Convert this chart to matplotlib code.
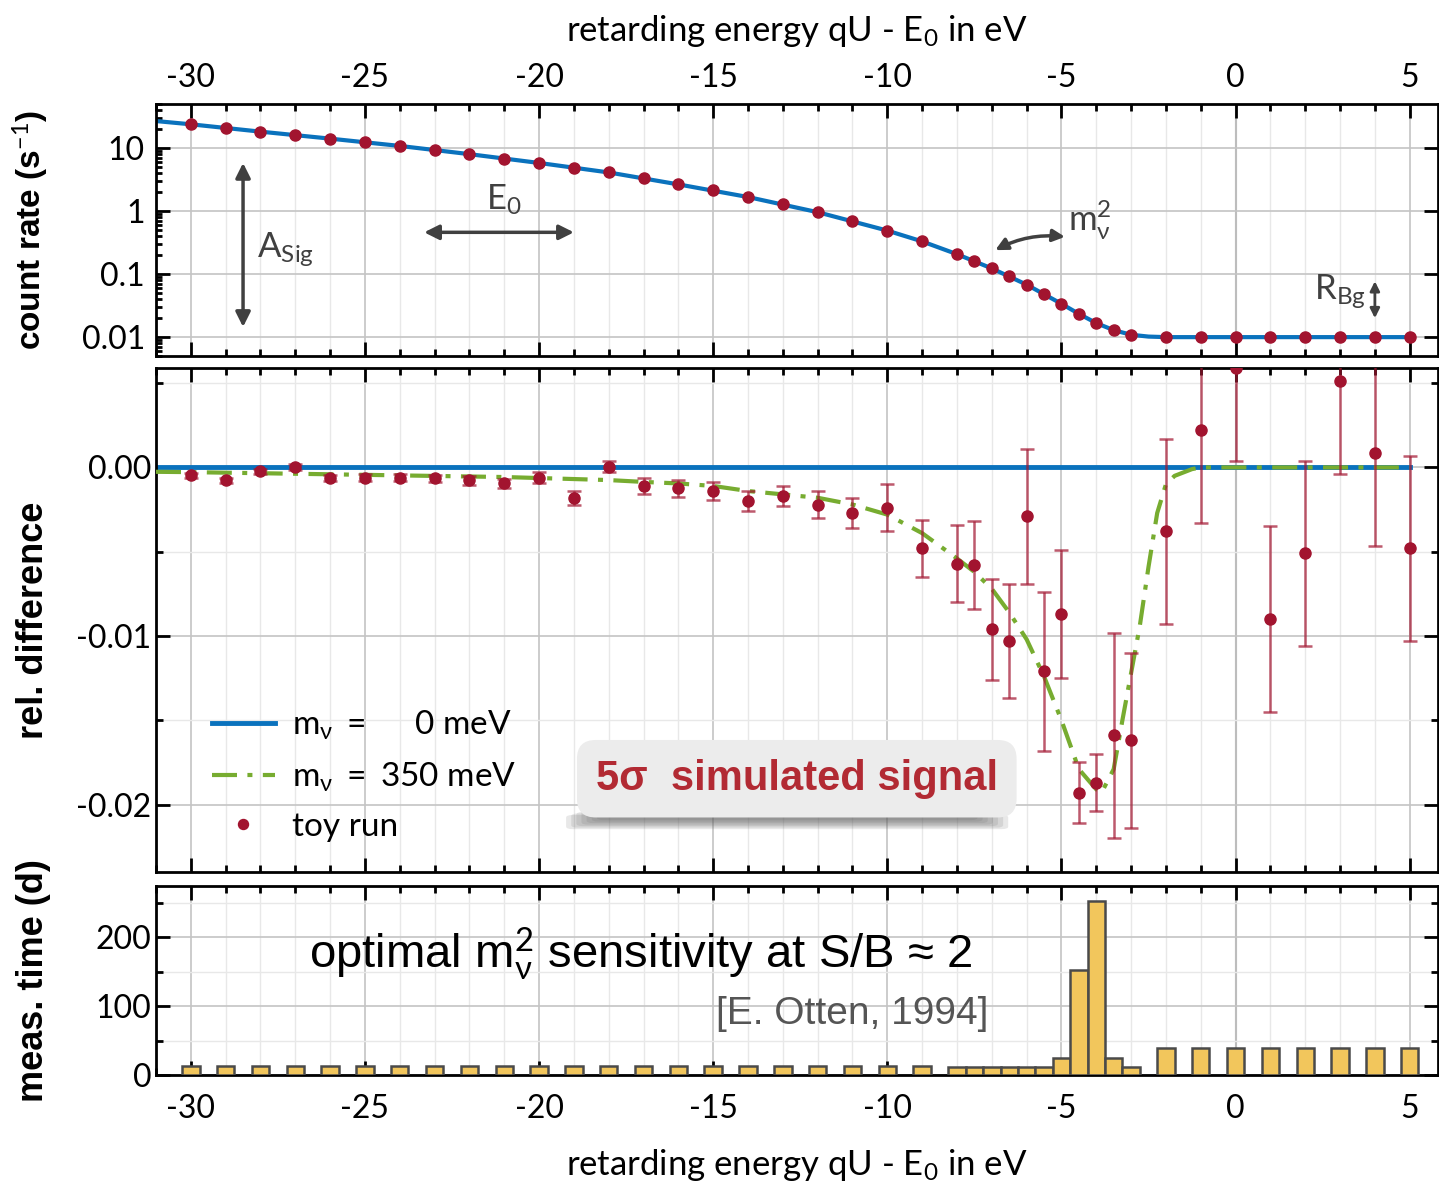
import matplotlib
matplotlib.use("Agg")
import matplotlib.pyplot as plt
from matplotlib.ticker import FixedLocator, MultipleLocator, FixedFormatter, LogLocator, NullFormatter
from matplotlib.patches import FancyBboxPatch

plt.rcParams['font.family'] = ['Lato', 'DejaVu Sans']
plt.rcParams['mathtext.fontset'] = 'custom'
plt.rcParams['mathtext.rm'] = 'Lato'
plt.rcParams['mathtext.it'] = 'Lato'
plt.rcParams['axes.unicode_minus'] = False

# retarding energies of the scan steps (eV)
qU = [-30, -29, -28, -27, -26, -25, -24, -23, -22, -21, -20, -19, -18, -17, -16,
      -15, -14, -13, -12, -11, -10, -9, -8, -7.5, -7, -6.5, -6, -5.5, -5, -4.5,
      -4, -3.5, -3, -2, -1, 0, 1, 2, 3, 4, 5]

# count rate of the toy run (1/s)
rate = [23.8, 20.5, 18.2, 16.3, 14.1, 12.3, 10.8, 9.3, 8.0, 6.8, 5.8, 4.8, 4.1,
        3.3, 2.65, 2.15, 1.67, 1.29, 0.96, 0.70, 0.49, 0.33, 0.207, 0.163, 0.123,
        0.092, 0.068, 0.0476, 0.0338, 0.0234, 0.0167, 0.0129, 0.0109, 0.0100,
        0.0100, 0.0100, 0.0100, 0.0100, 0.0100, 0.0100, 0.0100]

# model rate for m_nu = 0
model_x = [-31, -30, -28, -26, -24, -22, -20, -18, -16, -14, -12, -10, -9, -8, -7,
           -6, -5, -4.5, -4, -3.5, -3, -2.5, -2, 5]
model_rate = [26.8, 23.8, 18.2, 14.1, 10.8, 8.0, 5.8, 4.1, 2.65, 1.67, 0.96, 0.49,
              0.33, 0.207, 0.123, 0.068, 0.0338, 0.0234, 0.0167, 0.0129, 0.0109,
              0.0102, 0.0100, 0.0100]

# relative difference of toy run and its uncertainty
rel_diff = [-0.00047, -0.00077, -0.00024, 0.00002, -0.00065, -0.0006, -0.0006,
            -0.00065, -0.00077, -0.00095, -0.0006, -0.0018, 0.00005, -0.0011,
            -0.00125, -0.0014, -0.0020, -0.0017, -0.0022, -0.0027, -0.0024, -0.0048,
            -0.0057, -0.0058, -0.0096, -0.0103, -0.0029, -0.0121, -0.0087, -0.0193,
            -0.0187, -0.0159, -0.0162, -0.0038, 0.0022, 0.0059, -0.0090, -0.0051,
            0.0051, 0.00085, -0.0048]
rel_err = [0.00015, 0.00015, 0.00015, 0.00018, 0.00018, 0.0002, 0.0002, 0.00022,
           0.00025, 0.00028, 0.0003, 0.0004, 0.00035, 0.00045, 0.0005, 0.00055,
           0.0006, 0.0006, 0.0008, 0.0009, 0.0014, 0.0017, 0.0023, 0.0026, 0.0030,
           0.0034, 0.0040, 0.0047, 0.0038, 0.0018, 0.0017, 0.0061, 0.0052, 0.0055,
           0.0055, 0.0055, 0.0055, 0.0055, 0.0055, 0.0055, 0.0055]

# model with m_nu = 350 meV relative to m_nu = 0
m350_x = [-31, -30, -25, -21, -18, -17, -16, -15, -14, -13, -12, -11, -10, -9, -8,
          -7.5, -7, -6.5, -6, -5.5, -5, -4.5, -4, -3.85, -3.5, -3.25, -3, -2.75,
          -2.5, -2.25, -2, -1.75, -1.5, -1.25, -1, 5]
m350_y = [-0.00026, -0.00028, -0.00044, -0.00057, -0.00075, -0.00086, -0.00095,
          -0.0011, -0.0014, -0.0016, -0.0018, -0.0022, -0.0028, -0.0039, -0.0054,
          -0.0062, -0.0072, -0.0086, -0.0102, -0.0124, -0.0150, -0.0179, -0.0191,
          -0.0193, -0.0179, -0.0150, -0.0122, -0.0094, -0.0059, -0.0027, -0.0010,
          -0.0005, -0.0003, -0.0001, 0.0, 0.0]

# measurement time per scan step (days)
meas_time = [13, 13, 13, 13, 13, 13, 13, 13, 13, 13, 13, 13, 13, 13, 13, 13, 13,
             13, 13, 13, 13, 13, 11, 11, 11, 11, 11, 11, 24, 153, 252, 24, 11,
             39, 39, 39, 39, 39, 39, 39, 39]

blue = '#0a72bd'
green = '#77ac30'
red = '#a2142f'
dark = '#404040'
narrow = ['Liberation Sans Narrow', 'Liberation Sans']

fig = plt.figure(figsize=(14.39, 11.87), dpi=100)
L, W = 0.1084, 0.8906
ax1 = fig.add_axes([L, 0.700, W, 0.2124])
ax2 = fig.add_axes([L, 0.2654, W, 0.4246], sharex=ax1)
ax3 = fig.add_axes([L, 0.0944, W, 0.1596], sharex=ax1)

for ax in (ax1, ax2, ax3):
    ax.xaxis.set_major_locator(MultipleLocator(5))
    ax.xaxis.set_minor_locator(MultipleLocator(1))
    ax.grid(True, which='major', color='#c4c4c4', lw=1.2)
    ax.grid(True, which='minor', color='#e8e8e8', lw=1.0)
    ax.axvline(0, color='#a0a0a0', lw=1.5, zorder=0.5)
    ax.tick_params(which='both', direction='in', top=True, right=True,
                   labelsize=23, width=2)
    ax.tick_params(which='major', length=10)
    ax.tick_params(which='minor', length=5)
    for s in ax.spines.values():
        s.set_linewidth(2)
    ax.set_axisbelow(True)
ax1.set_xlim(-31, 5.8)

# top panel: count rate
ax1.plot(model_x, model_rate, color=blue, lw=3, zorder=2)
ax1.plot(qU, rate, 'o', color=red, ms=8, zorder=3)
ax1.set_yscale('log')
ax1.set_ylim(0.005, 50)
ax1.yaxis.set_major_locator(FixedLocator([0.01, 0.1, 1, 10]))
ax1.yaxis.set_major_formatter(FixedFormatter(['0.01', '0.1', '1', '10']))
ax1.yaxis.set_minor_locator(LogLocator(base=10, subs=range(2, 10), numticks=20))
ax1.yaxis.set_minor_formatter(NullFormatter())
ax1.grid(False, which='minor', axis='y')
ax1.tick_params(axis='y', which='minor', right=False, length=4)
ax1.tick_params(labeltop=True, labelbottom=False, pad=8)
ax1.xaxis.set_label_position('top')
ax1.set_xlabel(r'retarding energy qU - E$_0$ in eV', fontsize=25, labelpad=16)
ax1.set_ylabel(r'count rate (s$^{-1}$)', fontsize=24, fontweight='bold', family=narrow)

arr = dict(arrowstyle='<|-|>', color=dark, lw=2.5, mutation_scale=22, shrinkA=0, shrinkB=0)
ax1.annotate('', xy=(-28.5, 0.0145), xytext=(-28.5, 5.8), arrowprops=arr)
ax1.text(-28.1, 0.24, r'A$_{\mathrm{Sig}}$', fontsize=25, color=dark, va='center')
ax1.annotate('', xy=(-23.3, 0.46), xytext=(-19.0, 0.46), arrowprops=arr)
ax1.text(-21.0, 1.5, r'E$_0$', fontsize=25, color=dark, va='center', ha='center')
ax1.annotate('', xy=(-6.9, 0.24), xytext=(-4.9, 0.39),
             arrowprops=dict(arr, connectionstyle='arc3,rad=0.15', mutation_scale=18))
ax1.text(-4.8, 0.72, r'm$_\nu^2$', fontsize=25, color=dark, va='center')
ax1.annotate('', xy=(4, 0.020), xytext=(4, 0.077),
             arrowprops=dict(arr, mutation_scale=14, lw=2))
ax1.text(2.25, 0.052, r'R$_{\mathrm{Bg}}$', fontsize=25, color=dark, va='center')

# middle panel: relative difference
ax2.plot([-31, 5], [0, 0], color=blue, lw=3.5, zorder=2, label=r'm$_\nu$ $=$     0 meV')
ax2.plot(m350_x, m350_y, color=green, lw=3, ls=(0, (6, 2.5, 1.2, 2.5)), zorder=3,
         label=r'm$_\nu$ $=$ 350 meV')
ax2.errorbar(qU, rel_diff, yerr=rel_err, fmt='none', ecolor=red, alpha=0.7,
             elinewidth=1.8, capsize=5, capthick=1.8, zorder=4)
ax2.plot(qU, rel_diff, 'o', color=red, ms=8, zorder=5, label='toy run')
ax2.set_ylim(-0.024, 0.0059)
ax2.yaxis.set_major_locator(FixedLocator([-0.02, -0.01, 0.0]))
ax2.yaxis.set_major_formatter(FixedFormatter(['-0.02', '-0.01', '0.00']))
ax2.yaxis.set_minor_locator(MultipleLocator(0.005))
ax2.tick_params(labelbottom=False)
ax2.set_ylabel('rel. difference', fontsize=26, fontweight='bold', family=narrow)
leg = ax2.legend(loc='lower left', bbox_to_anchor=(0.02, 0.0), frameon=False,
                 fontsize=24, handlelength=1.9, handletextpad=0.5, labelspacing=0.55,
                 markerscale=0.9)

# 5 sigma label with shadow
for k in range(7):
    ax2.add_patch(FancyBboxPatch((0.325 + 0.004 * k, 0.09 + 0.003 * k),
                                 0.335 - 0.008 * k, 0.018,
                                 boxstyle='round,pad=0.005', transform=ax2.transAxes,
                                 facecolor='#606060', edgecolor='none', alpha=0.14,
                                 zorder=6))
ax2.text(0.5, 0.185, u'5\u03c3  simulated signal', transform=ax2.transAxes,
         fontsize=30, fontweight='bold', color='#b22a33', ha='center', va='center',
         family=narrow, zorder=8,
         bbox=dict(boxstyle='round,pad=0.45', facecolor='#ececec', edgecolor='none'))

# bottom panel: measurement time
ax3.bar(qU, meas_time, width=0.5, color='#f2c65c', edgecolor='#4a4a4a', lw=1.8, zorder=3)
ax3.set_ylim(0, 275)
ax3.yaxis.set_major_locator(FixedLocator([0, 100, 200]))
ax3.yaxis.set_minor_locator(MultipleLocator(50))
ax3.tick_params(axis='x', pad=14)
ax3.set_xlabel(r'retarding energy qU - E$_0$ in eV', fontsize=25, labelpad=16)
ax3.set_ylabel('meas. time (d)', fontsize=26, fontweight='bold', family=narrow)
ax3.text(-26.6, 175, u'optimal m$_\\nu^2$ sensitivity at S/B \u2248 2', fontsize=34,
         family=narrow, ha='left', va='center', zorder=5)
ax3.text(-7.1, 88, '[E. Otten, 1994]', fontsize=28, family=narrow, color='#555555',
         ha='right', va='center', zorder=5)

for ax in (ax1, ax2, ax3):
    ax.yaxis.set_label_coords(-0.082, 0.5)

fig.savefig('out.png', dpi=100)
